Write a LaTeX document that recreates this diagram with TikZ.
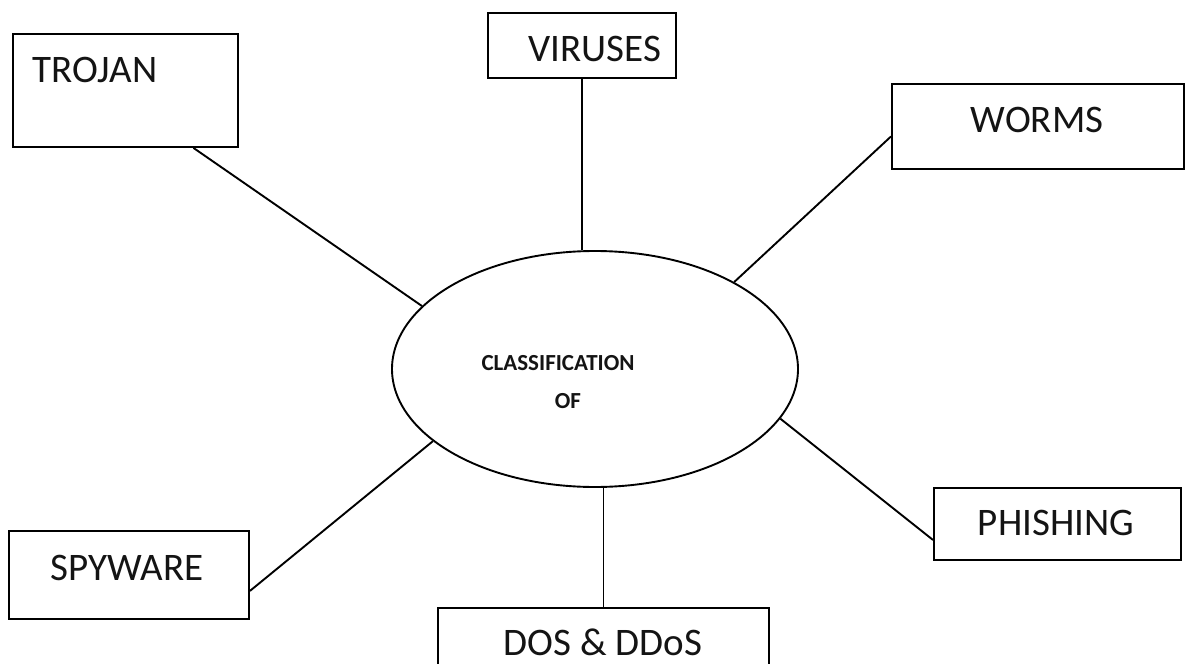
\documentclass[tikz,border=0pt]{standalone}
\usepackage{fontspec}
\setmainfont{Carlito}
\usetikzlibrary{shapes.geometric}

\tikzset{
  box/.style={draw, line width=1.9pt, fill=white, inner sep=0pt, anchor=north west},
  tag/.style={anchor=base, inner sep=0pt, font=\fontsize{39}{39}\selectfont, text=black!92},
  hub/.style={draw, ellipse, line width=1.9pt, inner sep=0pt},
  hubtext/.style={anchor=base, inner sep=0pt, font=\fontsize{23}{23}\selectfont\bfseries, text=black!92},
  link/.style={line width=1.9pt}
}

\begin{document}
\begin{tikzpicture}[x=1pt, y=-1pt]
  \useasboundingbox (0,0) rectangle (1187,664);
  \clip (0,0) rectangle (1187,664);
  \fill[white] (0,0) rectangle (1187,664);

  % central ellipse
  \node[hub, minimum width=406pt, minimum height=236pt] (ell) at (595,369) {};
  \node[hubtext] (cls) at (558,370) {CLASSIFICATION};
  \node[hubtext] (of) at (568,408) {OF};

  % category boxes
  \node[box, minimum width=225pt, minimum height=113pt] (trojan) at (12,33) {};
  \node[tag] (ttrojan) at (95,82) {TROJAN};

  \node[box, minimum width=188pt, minimum height=65pt] (viruses) at (487,12) {};
  \node[tag] (tviruses) at (595,61) {VIRUSES};

  \node[box, minimum width=292pt, minimum height=85pt] (worms) at (891,83) {};
  \node[tag] (tworms) at (1037,132) {WORMS};

  \node[box, minimum width=240pt, minimum height=88pt] (spyware) at (8,530) {};
  \node[tag] (tspyware) at (127,580) {SPYWARE};

  \node[box, minimum width=247pt, minimum height=72pt] (phishing) at (933,487) {};
  \node[tag] (tphishing) at (1056,535) {PHISHING};

  \node[box, minimum width=331pt, minimum height=80pt] (dos) at (437,607) {};
  \node[tag] (tdos) at (603,655) {DOS \& DDoS};

  % connectors from the boxes to the ellipse
  \draw[link] ([xshift=68pt]trojan.south) -- (ell.160);
  \draw[link] (viruses.south) -- (viruses.south |- ell.north);
  \draw[link] ([yshift=-10pt]worms.west) -- (ell.32);
  \draw[link] ([yshift=-16pt]spyware.east) -- (ell.204);
  \draw[link] ([yshift=-16pt]phishing.west) -- (ell.345);
  \draw[link] (dos.north) -- (dos.north |- ell.south);
\end{tikzpicture}
\end{document}
